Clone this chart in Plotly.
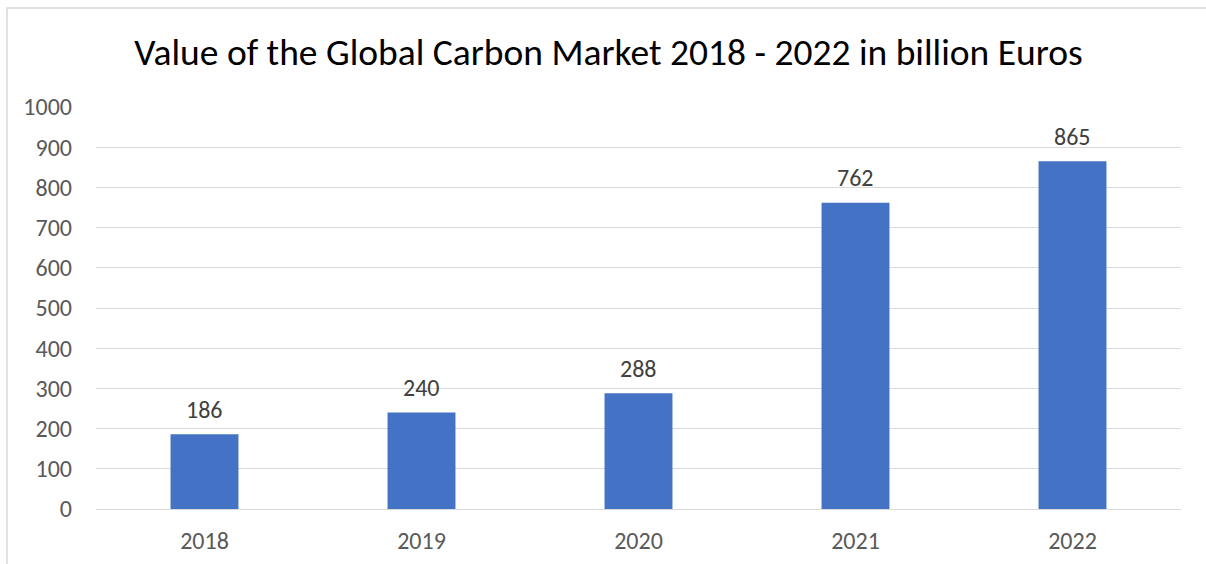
import plotly.graph_objects as go

years = ["2018", "2019", "2020", "2021", "2022"]
values = [186, 240, 288, 762, 865]
y_ticks = [0, 100, 200, 300, 400, 500, 600, 700, 800, 900, 1000]

W, H = 1206, 564
L, R, T, B = 96, 25, 107, 55
pw, ph = W - L - R, H - T - B
FONT = "Carlito, Calibri, Lato, sans-serif"


def px_to_paper_x(px):
    return (px - L) / pw


def px_to_paper_y(py):
    return (H - B - py) / ph


fig = go.Figure(
    go.Bar(
        x=years,
        y=values,
        marker=dict(color="#4472C4", line=dict(width=0)),
        hoverinfo="x+y",
    )
)

# value labels above each bar (category axes take the index for annotations)
for i, v in enumerate(values):
    fig.add_annotation(
        x=i,
        y=v,
        xref="x",
        yref="y",
        text=str(v),
        showarrow=False,
        yanchor="middle",
        yshift=25,
        font=dict(family=FONT, size=24, color="#404040"),
    )

fig.update_layout(
    width=W,
    height=H,
    margin=dict(l=L, r=R, t=T, b=B),
    paper_bgcolor="white",
    plot_bgcolor="white",
    bargap=0.687,
    showlegend=False,
    title=dict(
        text="Value of the Global Carbon Market 2018 - 2022 in billion Euros",
        x=608.5 / W,
        xanchor="center",
        y=1 - 52 / H,
        yanchor="middle",
        font=dict(family=FONT, size=37.5, color="#000000"),
    ),
    xaxis=dict(
        type="category",
        categoryorder="array",
        categoryarray=years,
        automargin=False,
        showgrid=False,
        showline=True,
        linecolor="#d9d9d9",
        linewidth=1,
        ticks="",
        tickfont=dict(family=FONT, size=24, color="#595959"),
        ticklabelstandoff=10,
    ),
    yaxis=dict(
        range=[0, 1000],
        tickvals=y_ticks,
        automargin=False,
        showgrid=True,
        gridcolor="#d9d9d9",
        gridwidth=1,
        zeroline=False,
        showline=False,
        ticks="",
        tickfont=dict(family=FONT, size=24, color="#595959"),
        ticklabelstandoff=23,
    ),
    shapes=[
        dict(
            type="rect",
            xref="paper",
            yref="paper",
            x0=px_to_paper_x(7),
            x1=px_to_paper_x(1220),
            y0=px_to_paper_y(580),
            y1=px_to_paper_y(8),
            line=dict(color="#d9d9d9", width=1.5),
            fillcolor="rgba(0,0,0,0)",
            layer="below",
        )
    ],
)

fig.write_html("out.html")
